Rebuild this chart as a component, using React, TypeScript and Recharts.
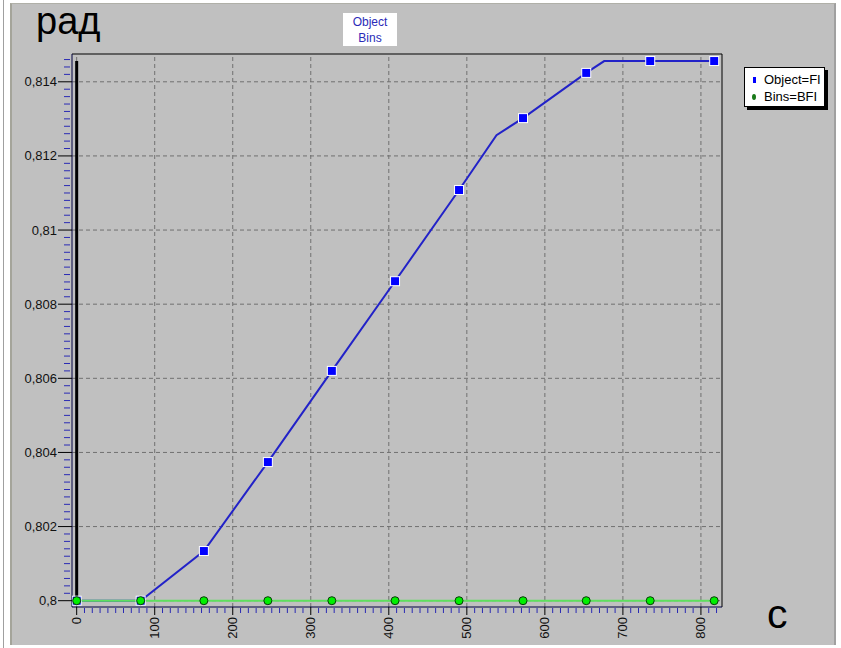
import React from 'react';
import { ComposedChart, Line, XAxis, YAxis, ReferenceLine } from 'recharts';

// time, s
const objectTime = [0, 82, 163, 245, 327, 408, 490, 538, 572, 653, 676, 735, 817];
// angle, rad
const objectValue = [0.8, 0.8, 0.80134, 0.80374, 0.8062, 0.80862, 0.81108, 0.81256, 0.81302, 0.81424, 0.81456, 0.81456, 0.81456];
// which points carry a square marker
const objectMarker = [true, true, true, true, true, true, true, false, true, true, false, true, true];

const binsTime = [0, 82, 163, 245, 327, 408, 490, 572, 653, 735, 817];
const binsValue = [0.8, 0.8, 0.8, 0.8, 0.8, 0.8, 0.8, 0.8, 0.8, 0.8, 0.8];

const xMajorTicks = [0, 100, 200, 300, 400, 500, 600, 700, 800];
const yMajorTicks = [0.8, 0.802, 0.804, 0.806, 0.808, 0.81, 0.812, 0.814];

const xDomain = [-6, 827];
const yDomain = [0.79983, 0.81475];

// minor tick marks (every 10 s / every 0.0002 rad)
const xMinorTicks = Array.from({ length: 83 }, (_, i) => i * 10);
const yMinorTicks = Array.from({ length: 74 }, (_, i) => +(0.8 + i * 0.0002).toFixed(4));

const objectData = objectTime.map((t, i) => ({ t, v: objectValue[i], mark: objectMarker[i] }));
const binsData = binsTime.map((t, i) => ({ t, v: binsValue[i] }));

const font = '"Liberation Sans", Arial, sans-serif';

const XTick = (props: any) => {
  const { x, y, payload } = props;
  const major = payload.value % 100 === 0;
  if (!major) {
    return <line x1={x} x2={x} y1={y + 1} y2={y + 6} stroke="#2a2ab4" />;
  }
  const ty = y + 10;
  return (
    <g>
      <line x1={x} x2={x} y1={y} y2={y + 8} stroke="#000" />
      <text
        x={x}
        y={ty}
        transform={`rotate(-90 ${x} ${ty})`}
        textAnchor="end"
        dominantBaseline="central"
        fontSize={13}
        fontFamily={font}
        fill="#111"
      >
        {payload.value}
      </text>
    </g>
  );
};

const YTick = (props: any) => {
  const { x, y, payload } = props;
  const major = Math.round(payload.value * 10000) % 20 === 0;
  if (!major) {
    return <line x1={x - 8} x2={x - 2} y1={y} y2={y} stroke="#2a2ab4" />;
  }
  const label = String(Math.round(payload.value * 1000) / 1000).replace('.', ',');
  return (
    <g>
      <line x1={x - 14} x2={x} y1={y} y2={y} stroke="#000" />
      <text x={x - 15} y={y} textAnchor="end" dominantBaseline="central" fontSize={13} fontFamily={font} fill="#111">
        {label}
      </text>
    </g>
  );
};

const SquareDot = (props: any) => {
  const { cx, cy, payload, index } = props;
  if (!payload.mark) return <g key={`o${index}`} />;
  return (
    <rect key={`o${index}`} x={cx - 4.5} y={cy - 4.5} width={9} height={9} fill="#0000ff" stroke="#ffffff" strokeWidth={1} />
  );
};

const RoundDot = (props: any) => {
  const { cx, cy, index } = props;
  return <circle key={`b${index}`} cx={cx} cy={cy} r={4} fill="#00f000" stroke="#0a3a0a" strokeWidth={1} />;
};

export default function App() {
  return (
    <div style={{ position: 'absolute', left: 0, top: 0, width: 841, height: 648, background: '#fff', overflow: 'hidden' }}>
      <div style={{ position: 'absolute', left: 3, top: 0, width: 1, height: 648, background: '#a0a0a0' }} />
      <div
        style={{
          position: 'absolute',
          left: 10,
          top: 3,
          width: 826,
          height: 642,
          background: '#c0c0c0',
          borderLeft: '2px solid #a4a49a',
          borderTop: '1px solid #b0b0a8',
          borderRight: '2px solid #a0a0a0',
          boxSizing: 'border-box',
        }}
      />
      <div style={{ position: 'absolute', left: 0, top: 0 }}>
        <ComposedChart width={841} height={648} margin={{ top: 54, right: 119, bottom: 5, left: 12 }}>
          <XAxis
            dataKey="t"
            type="number"
            domain={xDomain}
            allowDataOverflow
            ticks={xMinorTicks}
            interval={0}
            tick={<XTick />}
            tickLine={false}
            tickSize={0}
            tickMargin={0}
            height={36}
            axisLine={{ stroke: '#000040' }}
          />
          <YAxis
            dataKey="v"
            type="number"
            domain={yDomain}
            allowDataOverflow
            ticks={yMinorTicks}
            interval={0}
            tick={<YTick />}
            tickLine={false}
            tickSize={0}
            tickMargin={0}
            width={60}
            axisLine={{ stroke: '#000040' }}
          />
          {xMajorTicks.map((v) => (
            <ReferenceLine key={`gx${v}`} x={v} stroke="#707070" strokeDasharray="4 3" />
          ))}
          {yMajorTicks.map((v) => (
            <ReferenceLine key={`gy${v}`} y={v} stroke="#707070" strokeDasharray="4 3" />
          ))}
          <ReferenceLine y={yDomain[1]} stroke="#000" />
          <ReferenceLine x={xDomain[1]} stroke="#000" />
          <ReferenceLine
            segment={[
              { x: 0, y: 0.8 },
              { x: 0, y: 0.81456 },
            ]}
            stroke="#000"
            strokeWidth={3}
          />
          <Line
            data={objectData}
            dataKey="v"
            type="linear"
            stroke="#2222c8"
            strokeWidth={2}
            dot={SquareDot}
            activeDot={false}
            isAnimationActive={false}
          />
          <Line
            data={binsData}
            dataKey="v"
            type="linear"
            stroke="#5ee05e"
            strokeWidth={2}
            dot={RoundDot}
            activeDot={false}
            isAnimationActive={false}
          />
        </ComposedChart>
      </div>
      <svg width={841} height={648} style={{ position: 'absolute', left: 0, top: 0, pointerEvents: 'none' }}>
        <text x={36} y={34} fontSize={38} fontFamily={font} fill="#000">
          рад
        </text>
        <text x={767} y={628} fontSize={41} fontFamily={font} fill="#000">
          с
        </text>
      </svg>
      <div
        style={{
          position: 'absolute',
          left: 343,
          top: 13,
          width: 54,
          height: 33,
          background: '#fff',
          color: '#2b2bb8',
          fontFamily: font,
          fontSize: 12,
          lineHeight: '16px',
          textAlign: 'center',
          paddingTop: 1,
          boxSizing: 'border-box',
        }}
      >
        <div>Object</div>
        <div>Bins</div>
      </div>
      <div
        style={{
          position: 'absolute',
          left: 744,
          top: 67,
          width: 81,
          height: 40,
          background: '#fff',
          border: '1px solid #000',
          boxShadow: '3px 3px 0 #000',
          boxSizing: 'border-box',
          fontFamily: font,
          fontSize: 13,
          color: '#000',
        }}
      >
        <div style={{ position: 'absolute', left: 8, top: 9, width: 3, height: 6, background: '#0000ff' }} />
        <div style={{ position: 'absolute', left: 19, top: 3, lineHeight: '17px' }}>Object=FI</div>
        <div
          style={{
            position: 'absolute',
            left: 7,
            top: 26,
            width: 4,
            height: 6,
            background: '#1a7a1a',
            borderRadius: '50%',
          }}
        />
        <div style={{ position: 'absolute', left: 19, top: 20, lineHeight: '17px' }}>Bins=BFI</div>
      </div>
    </div>
  );
}
